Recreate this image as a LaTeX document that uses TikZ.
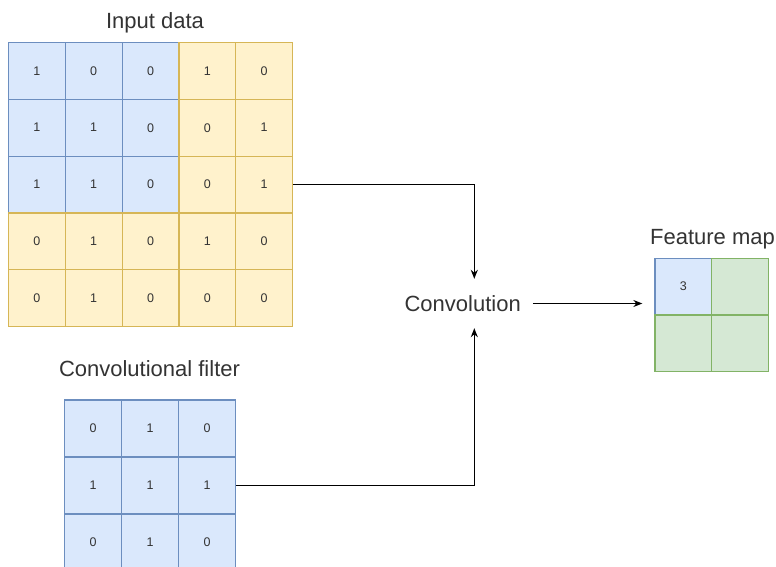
\documentclass[tikz,border=0pt]{standalone}
\usepackage{fontspec}
\setmainfont{Liberation Sans}
\usetikzlibrary{arrows.meta}

\definecolor{blueFill}{HTML}{DAE8FC}
\definecolor{blueLine}{HTML}{6C8EBF}
\definecolor{yellowFill}{HTML}{FFF2CC}
\definecolor{yellowLine}{HTML}{D6B656}
\definecolor{greenFill}{HTML}{D5E8D4}
\definecolor{greenLine}{HTML}{82B366}
\definecolor{txt}{HTML}{333333}

\tikzset{
	cell/.style={draw, line width=1.2pt, minimum size=56.8pt, inner sep=0pt, text=txt, font=\fontsize{12.5}{14}\selectfont},
	bluecell/.style={cell, fill=blueFill, draw=blueLine},
	yellowcell/.style={cell, fill=yellowFill, draw=yellowLine},
	greencell/.style={cell, fill=greenFill, draw=greenLine},
	title/.style={anchor=base, text=txt, font=\fontsize{22}{26}\selectfont},
	link/.style={-{Stealth[length=9pt,width=7pt]}, line width=1.2pt, black},
}

\begin{document}
\begin{tikzpicture}[x=1pt, y=-1pt]
				\useasboundingbox (0,0) rectangle (776,567);
				
				% input data, 5x5, top left 3x3 window in blue
				\foreach \row [count=\r from 0] in {{1,0,0,1,0},{1,1,0,0,1},{1,1,0,0,1},{0,1,0,1,0},{0,1,0,0,0}}{
					\foreach \v [count=\c from 0] in \row {
						\pgfmathtruncatemacro\inwin{and(\r<3,\c<3)}
						\ifnum\inwin=1 \def\st{bluecell}\else\def\st{yellowcell}\fi
						\node[\st] (in-\r-\c) at ({8.5+56.8*(\c+0.5)},{42.5+56.8*(\r+0.5)}) {\v};
					}
				}
				\node[title] (intitle) at (155,28.3) {Input data};
				
				% filter, 3x3
				\foreach \row [count=\r from 0] in {{0,1,0},{1,1,1},{0,1,0}}{
					\foreach \v [count=\c from 0] in \row {
						\node[bluecell, minimum size=57pt] (filt-\r-\c) at ({64.5+57*(\c+0.5)},{400+57*(\r+0.5)}) {\v};
					}
				}
				\node[title] (filttitle) at (149.5,376) {Convolutional filter};
				
				% feature map, 2x2
				\node[bluecell, minimum size=56.7pt] (fm-0-0) at (683.3,286.6) {3};
				\node[greencell, minimum size=56.7pt] (fm-0-1) at (740,286.6) {};
				\node[greencell, minimum size=56.7pt] (fm-1-0) at (683.3,343.3) {};
				\node[greencell, minimum size=56.7pt] (fm-1-1) at (740,343.3) {};
				\node[title] (fmtitle) at (712.5,244) {Feature map};
				
				\node[text=txt, font=\fontsize{22}{26}\selectfont, minimum width=140pt, minimum height=49pt, inner sep=0pt] (conv) at (462.7,303.5) {Convolution};
				\coordinate (fmin) at ([xshift=-12pt]fm-0-0.west);
				
				\draw[link] (in-2-4.east) -| ([xshift=11.6pt]conv.north);
				\draw[link] (filt-1-2.east) -| ([xshift=11.6pt]conv.south);
				\draw[link] (conv.east) -- (fmin |- conv.east);
			\end{tikzpicture}
\end{document}
